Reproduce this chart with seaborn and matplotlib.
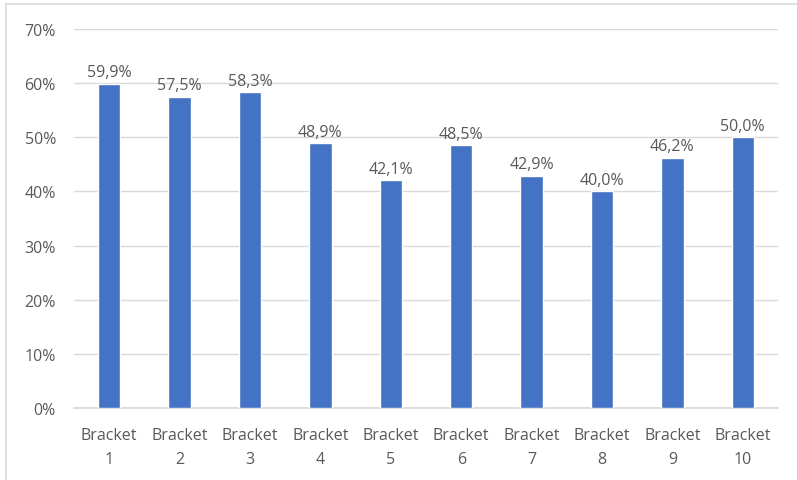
import matplotlib

matplotlib.use("Agg")
import matplotlib.pyplot as plt
import numpy as np
import pandas as pd
import seaborn as sns
from matplotlib.lines import Line2D
from matplotlib.ticker import FuncFormatter

categories = [f"Bracket\n{i}" for i in range(1, 11)]
values = [59.9, 57.5, 58.3, 48.9, 42.1, 48.5, 42.9, 40.0, 46.2, 50.0]
y_ticks = [0, 10, 20, 30, 40, 50, 60, 70]

df = pd.DataFrame({"bracket": categories, "share": values})

sns.set_theme(style="white")
plt.rcParams["font.family"] = ["Open Sans", "DejaVu Sans"]

text_color = "#595959"
fig = plt.figure(figsize=(7.97, 4.81), dpi=100)
ax = fig.add_axes([74 / 797, 72 / 481, 704 / 797, 379 / 481])

sns.barplot(data=df, x="bracket", y="share", color="#4472C4", width=0.32,
            saturation=1, ax=ax, zorder=3)

ax.set_ylim(0, 70)
ax.set_xlim(-0.5, len(categories) - 0.5)
ax.set_yticks(y_ticks)
ax.yaxis.set_major_formatter(FuncFormatter(lambda v, _: f"{v:.0f}%"))
ax.grid(axis="y", color="#D9D9D9", linewidth=1, zorder=0)
ax.set_xlabel("")
ax.set_ylabel("")
for side in ["top", "right", "left"]:
    ax.spines[side].set_visible(False)
ax.spines["bottom"].set_color("#D9D9D9")
ax.tick_params(axis="y", length=0, pad=13, labelsize=11.5, labelcolor=text_color)
ax.tick_params(axis="x", length=0, pad=14, labelsize=11.5, labelcolor=text_color)
for lbl in ax.get_xticklabels():
    lbl.set_linespacing(1.65)

for i, v in enumerate(values):
    ax.annotate(f"{v:.1f}%".replace(".", ","), (i, v), xytext=(0, 2.5),
                textcoords="offset points", ha="center", va="bottom",
                fontsize=11.5, color=text_color)

# chart frame (left and top edges visible in the crop)
fig.add_artist(Line2D([6 / 797, 6 / 797], [0, 1 - 5 / 481], transform=fig.transFigure,
                      color="#D9D9D9", linewidth=1.2))
fig.add_artist(Line2D([6 / 797, 1], [1 - 5 / 481, 1 - 5 / 481], transform=fig.transFigure,
                      color="#D9D9D9", linewidth=1.2))

fig.savefig("out.png", dpi=100)
